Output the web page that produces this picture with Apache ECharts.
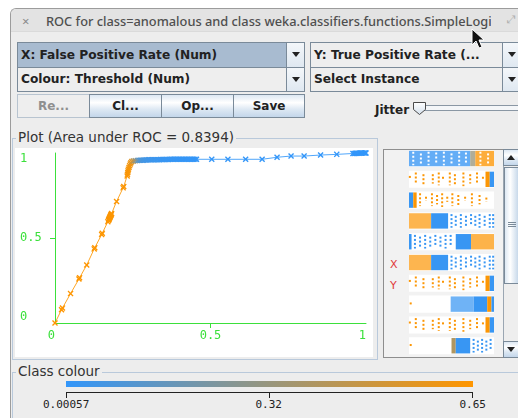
<!DOCTYPE html>
<html>
<head>
<meta charset="utf-8">
<script src="https://cdn.jsdelivr.net/npm/echarts@6/dist/echarts.min.js"></script>
<style>
html,body{margin:0;padding:0;width:518px;height:418px;overflow:hidden;background:#ffffff;font-family:"DejaVu Sans",sans-serif;}
.a{position:absolute;box-sizing:border-box;}
#win{left:10px;top:8px;width:520px;height:420px;background:#ededed;border-left:1px solid #9c9c9c;border-top:1px solid #9c9c9c;border-top-left-radius:6px;}
#titlebar{left:11px;top:9px;width:510px;height:23px;background:#e3e3e3;border-top-left-radius:5px;border-bottom:1px solid #dadada;}
#close{left:22px;top:12px;font:13px "Noto Sans",sans-serif;color:#8a8a8a;}
#title{left:46px;top:12px;width:445px;white-space:nowrap;overflow:hidden;font:500 12.8px "Noto Sans",sans-serif;color:#4f4f4f;}
#maxi{left:507px;top:13px;font:11px "DejaVu Sans",sans-serif;color:#b0b0b0;}
.combo{border:1px solid #7a8a99;background:#eeeeee;font:bold 12.2px "DejaVu Sans",sans-serif;color:#222;padding-left:3px;white-space:nowrap;overflow:hidden;}
.combo.sel{background:#a8bbd0;}
.arr{border:1px solid #7a8a99;background:linear-gradient(#f4f7fa,#dfe8f1);}
.arr::after{content:"";position:absolute;left:5px;top:9px;border-left:4px solid transparent;border-right:4px solid transparent;border-top:5px solid #222;}
.btn{border:1px solid #7a8a99;background:linear-gradient(#dde8f3 0%,#ffffff 35%,#dde8f3 65%,#c3d6ea 100%);font:bold 12px "DejaVu Sans",sans-serif;color:#222;text-align:center;}
.btn.dis{background:#eeeeee;color:#8f8f8f;border-color:#b8c4d0;}
.lbl{font:bold 12px "DejaVu Sans",sans-serif;color:#222;white-space:nowrap;}
.ptitle{font:13.5px "DejaVu Sans",sans-serif;color:#333;background:#ededed;padding:0 2px;white-space:nowrap;}
#chart{left:0;top:0;width:518px;height:418px;z-index:5;pointer-events:none;}
.mono{font:11px "DejaVu Sans Mono",monospace;color:#222;white-space:nowrap;}
</style>
</head>
<body>
<div class="a" id="win"></div>
<div class="a" id="titlebar"></div>
<div class="a" id="close">×</div>
<div class="a" id="title">ROC for class=anomalous and class weka.classifiers.functions.SimpleLogistic</div>
<div class="a" id="maxi">⤢</div>

<!-- selectors -->
<div class="a combo sel" style="left:17px;top:42px;width:270px;height:26px;line-height:24px;">X: False Positive Rate (Num)</div>
<div class="a arr" style="left:286px;top:42px;width:19px;height:26px;"></div>
<div class="a combo" style="left:310px;top:42px;width:193px;height:26px;line-height:24px;">Y: True Positive Rate (...</div>
<div class="a arr" style="left:502px;top:42px;width:19px;height:26px;"></div>
<div class="a combo" style="left:17px;top:67px;width:270px;height:25px;line-height:23px;">Colour: Threshold (Num)</div>
<div class="a arr" style="left:286px;top:67px;width:19px;height:25px;"></div>
<div class="a combo" style="left:310px;top:67px;width:193px;height:25px;line-height:23px;">Select Instance</div>
<div class="a arr" style="left:502px;top:67px;width:19px;height:25px;"></div>

<!-- buttons -->
<div class="a btn dis" style="left:17px;top:94px;width:73px;height:24px;line-height:22px;">Re...</div>
<div class="a btn" style="left:89px;top:94px;width:73px;height:24px;line-height:22px;">Cl...</div>
<div class="a btn" style="left:161px;top:94px;width:73px;height:24px;line-height:22px;">Op...</div>
<div class="a btn" style="left:233px;top:94px;width:72px;height:24px;line-height:22px;">Save</div>

<!-- jitter slider -->
<div class="a lbl" style="left:375px;top:103px;">Jitter</div>
<div class="a" style="left:417px;top:105px;width:110px;height:6px;border:1px solid #8a97a4;background:#f4f6f8;"></div>
<svg class="a" style="left:412px;top:101px;" width="16" height="16">
  <defs><linearGradient id="tg" x1="0" y1="0" x2="0" y2="1"><stop offset="0" stop-color="#ffffff"/><stop offset="1" stop-color="#d4e0ec"/></linearGradient></defs>
  <polygon points="1.5,1.5 13.5,1.5 13.5,8.5 7.5,13.5 1.5,8.5" fill="url(#tg)" stroke="#4a4a4a" stroke-width="1"/>
</svg>

<!-- plot panel -->
<div class="a" style="left:12px;top:138px;width:366px;height:222px;border:1px solid #b9c9db;"></div>
<div class="a" style="left:15px;top:148px;width:358px;height:209px;background:#ffffff;"></div>
<div class="a ptitle" style="left:16px;top:129px;">Plot (Area under ROC = 0.8394)</div>

<!-- attribute panel -->
<div class="a" style="left:383px;top:149px;width:121px;height:209px;border:1px solid #8e8e8e;background:#f2f2f2;"></div>
<div class="a" style="left:390px;top:258px;font:11px 'DejaVu Sans',sans-serif;color:#e03a3a;">X</div>
<div class="a" style="left:390px;top:279px;font:11px 'DejaVu Sans',sans-serif;color:#e03a3a;">Y</div>
<!-- scrollbar -->
<div class="a" style="left:503px;top:149px;width:16px;height:209px;background:#eeeeee;border-left:1px solid #9aa6b2;"></div>
<div class="a btn" style="left:503px;top:149px;width:16px;height:17px;"></div>
<div class="a" style="left:507px;top:155px;border-left:4px solid transparent;border-right:4px solid transparent;border-bottom:5px solid #222;"></div>
<div class="a" style="left:504px;top:167px;width:15px;height:117px;border:1px solid #7a8a99;background:linear-gradient(90deg,#dde8f3,#ffffff 40%,#c8d9ea);"></div>
<div class="a" style="left:508px;top:222px;width:8px;height:5px;border-top:1px solid #7a8a99;border-bottom:1px solid #7a8a99;"></div>
<div class="a" style="left:508px;top:224px;width:8px;height:1px;background:#7a8a99;"></div>
<div class="a btn" style="left:503px;top:341px;width:16px;height:17px;"></div>
<div class="a" style="left:507px;top:347px;border-left:4px solid transparent;border-right:4px solid transparent;border-top:5px solid #222;"></div>

<!-- class colour panel -->
<div class="a" style="left:12px;top:372px;width:520px;height:60px;border-left:1px solid #b9c9db;border-top:1px solid #b9c9db;"></div>
<div class="a ptitle" style="left:16px;top:363px;">Class colour</div>
<div class="a" id="cbar" style="left:66px;top:381px;width:407px;height:6px;"></div>
<div class="a" style="left:66px;top:392px;width:407px;height:6px;border-left:1px solid #222;border-right:1px solid #222;border-top:1px solid #222;"></div>
<div class="a" style="left:269px;top:392px;width:1px;height:6px;background:#222;"></div>
<div class="a mono" id="cl0" style="top:398px;"></div>
<div class="a mono" id="cl1" style="top:398px;"></div>
<div class="a mono" id="cl2" style="top:398px;"></div>

<div class="a" id="chart"></div>

<!-- pointer -->
<svg class="a" style="left:471px;top:28px;z-index:9;" width="16" height="22">
  <polygon points="1,1 1,17 5,13 8,20 11,19 8,12 13,12" fill="#111" stroke="#fff" stroke-width="1"/>
</svg>

<script>
// ROC curve points, in order of decreasing threshold
const fpr = [0.000,0.021,0.024,0.050,0.077,0.079,0.102,0.126,0.128,0.150,0.152,
  0.170,0.172,0.173,0.174,0.175,0.176,0.177,0.178,0.179,0.180,0.181,0.182,
  0.198,0.219,0.221,
  0.232,0.233,0.234,0.235,0.236,0.238,0.240,0.242,0.244,0.247,0.252,0.258,0.265,0.270,
  0.275,0.280,0.285,0.290,0.295,0.300,0.305,0.310,0.315,0.320,0.325,0.330,0.335,0.340,0.345,0.350,0.355,0.360,0.365,
  0.370,0.375,0.380,0.385,0.390,0.395,0.400,0.405,0.410,0.415,0.420,0.425,0.430,0.435,0.440,0.445,0.450,0.455,
  0.504,0.556,0.613,0.666,0.714,0.759,0.801,0.854,0.906,
  0.958,0.962,0.966,0.970,0.974,0.978,0.982,0.986,0.990,0.994,0.998,1.000];
const tpr = [0.000,0.078,0.088,0.173,0.259,0.266,0.341,0.436,0.443,0.520,0.528,
  0.596,0.604,0.608,0.612,0.616,0.620,0.624,0.628,0.632,0.636,0.640,0.644,
  0.715,0.795,0.803,
  0.865,0.875,0.885,0.895,0.905,0.915,0.925,0.935,0.943,0.950,0.953,0.955,0.956,0.957,
  0.957,0.958,0.958,0.959,0.959,0.960,0.960,0.960,0.960,0.961,0.961,0.961,0.961,0.962,0.962,0.962,0.962,0.962,0.962,
  0.963,0.963,0.963,0.963,0.963,0.963,0.963,0.963,0.963,0.963,0.963,0.963,0.963,0.963,0.963,0.963,0.963,0.963,
  0.963,0.963,0.963,0.963,0.975,0.982,0.982,0.988,0.992,
  0.997,0.997,0.998,0.998,0.999,0.999,1.000,1.000,1.000,1.000,1.000,1.000];
const threshold = [0.650,0.649,0.649,0.648,0.647,0.647,0.646,0.645,0.645,0.644,0.644,
  0.643,0.643,0.643,0.643,0.642,0.642,0.642,0.642,0.641,0.641,0.641,0.641,
  0.640,0.638,0.638,
  0.636,0.635,0.634,0.632,0.630,0.626,0.620,0.610,0.590,0.540,0.450,0.330,0.200,0.130,
  0.090,0.075,0.064,0.056,0.050,0.045,0.041,0.038,0.035,0.032,0.030,0.028,0.026,0.024,0.022,0.021,0.020,0.019,0.018,
  0.017,0.016,0.015,0.014,0.013,0.012,0.012,0.011,0.011,0.010,0.010,0.009,0.009,0.009,0.008,0.008,0.008,0.007,
  0.006,0.005,0.004,0.0035,0.003,0.0025,0.002,0.0018,0.0015,
  0.0012,0.0011,0.0010,0.0009,0.0009,0.0008,0.0008,0.0007,0.0007,0.0006,0.0006,0.00057];

// colour scale for the threshold
const thresholdMin = 0.00057, thresholdMax = 0.65;
const scaleLabels = ['0.00057', '0.32', '0.65'];

// attribute strips: solid runs [strip, from, to, threshold, opacity]
const stripRuns = [
  [0,0.00,0.72,0.02,0.78],[0,0.72,0.78,0.33,0.78],[0,0.78,1.00,0.64,0.78],
  [1,0.90,0.95,0.64,1],[1,0.95,1.00,0.02,1],
  [2,0.00,0.05,0.02,1],[2,0.05,0.09,0.64,1],
  [3,0.00,0.26,0.64,0.7],[3,0.26,0.46,0.02,1],
  [4,0.00,0.03,0.02,1],[4,0.55,0.73,0.02,1],[4,0.73,1.00,0.64,0.72],
  [5,0.00,0.26,0.64,0.7],[5,0.26,0.46,0.02,1],
  [6,0.90,0.95,0.64,1],[6,0.95,1.00,0.02,1],
  [7,0.49,0.76,0.02,0.72],[7,0.76,0.92,0.02,1],[7,0.92,0.97,0.64,1],[7,0.97,1.00,0.02,1],
  [8,0.90,0.95,0.64,1],[8,0.95,1.00,0.02,1],
  [9,0.50,0.55,0.40,1],[9,0.55,0.72,0.02,1]
];
// attribute strips: jittered dot columns [strip, x, top, bottom, threshold]
const stripDots = [
  [0,0.05,0.10,0.90,1.0],[0,0.14,0.20,0.80,1.0],[0,0.23,0.10,0.90,1.0],[0,0.32,0.15,0.85,1.0],
  [0,0.41,0.10,0.90,1.0],[0,0.50,0.20,0.80,1.0],[0,0.59,0.10,0.90,1.0],[0,0.67,0.15,0.85,1.0],
  [0,0.84,0.10,0.90,1.0],[0,0.93,0.20,0.80,1.0],
  [1,0.01,0.30,0.50,0.64],[1,0.08,0.10,0.75,0.64],[1,0.17,0.20,0.85,0.64],[1,0.28,0.20,0.75,0.64],
  [1,0.35,0.10,0.85,0.64],[1,0.40,0.35,0.50,0.64],[1,0.48,0.10,0.85,0.64],[1,0.54,0.20,0.85,0.64],
  [1,0.64,0.10,0.90,0.64],[1,0.72,0.20,0.75,0.64],[1,0.80,0.10,0.70,0.64],[1,0.87,0.35,0.55,0.64],
  [2,0.13,0.10,0.85,0.64],[2,0.20,0.30,0.55,0.64],[2,0.27,0.10,0.85,0.64],[2,0.33,0.20,0.75,0.64],
  [2,0.39,0.10,0.90,0.64],[2,0.45,0.30,0.60,0.64],[2,0.51,0.10,0.85,0.64],[2,0.58,0.20,0.80,0.64],
  [2,0.66,0.30,0.55,0.64],[2,0.74,0.10,0.85,0.64],[2,0.83,0.20,0.75,0.64],[2,0.91,0.35,0.60,0.64],
  [3,0.50,0.10,0.90,0.02],[3,0.55,0.20,0.80,0.02],[3,0.61,0.10,0.90,0.02],[3,0.67,0.20,0.90,0.02],
  [3,0.73,0.10,0.80,0.02],[3,0.78,0.20,0.90,0.02],[3,0.83,0.10,0.90,0.02],[3,0.89,0.20,0.80,0.02],
  [3,0.95,0.10,0.90,0.02],[3,0.99,0.10,0.90,0.02],
  [4,0.07,0.10,0.90,0.02],[4,0.13,0.20,0.80,0.02],[4,0.19,0.10,0.90,0.02],[4,0.25,0.20,0.90,0.02],
  [4,0.31,0.10,0.80,0.02],[4,0.37,0.20,0.90,0.02],[4,0.43,0.10,0.90,0.02],[4,0.49,0.10,0.80,0.02],
  [5,0.50,0.10,0.90,0.02],[5,0.55,0.20,0.80,0.02],[5,0.61,0.10,0.90,0.02],[5,0.67,0.20,0.90,0.02],
  [5,0.73,0.10,0.80,0.02],[5,0.78,0.20,0.90,0.02],[5,0.83,0.10,0.90,0.02],[5,0.89,0.20,0.80,0.02],
  [5,0.95,0.10,0.90,0.02],[5,0.99,0.10,0.90,0.02],
  [6,0.01,0.30,0.50,0.64],[6,0.08,0.10,0.75,0.64],[6,0.17,0.20,0.85,0.64],[6,0.28,0.20,0.75,0.64],
  [6,0.35,0.10,0.85,0.64],[6,0.40,0.35,0.50,0.64],[6,0.48,0.10,0.85,0.64],[6,0.54,0.20,0.85,0.64],
  [6,0.64,0.10,0.90,0.64],[6,0.72,0.20,0.75,0.64],[6,0.80,0.10,0.70,0.64],[6,0.87,0.35,0.55,0.64],
  [7,0.02,0.40,0.60,0.64],
  [8,0.01,0.30,0.50,0.64],[8,0.08,0.10,0.75,0.64],[8,0.17,0.20,0.85,0.64],[8,0.28,0.20,0.75,0.64],
  [8,0.35,0.10,0.85,0.64],[8,0.40,0.35,0.50,0.64],[8,0.48,0.10,0.85,0.64],[8,0.54,0.20,0.85,0.64],
  [8,0.64,0.10,0.90,0.64],[8,0.72,0.20,0.75,0.64],[8,0.80,0.10,0.70,0.64],[8,0.87,0.35,0.55,0.64],
  [9,0.02,0.40,0.60,0.64],[9,0.76,0.10,0.90,0.02],[9,0.81,0.20,0.80,0.02],[9,0.86,0.10,0.90,0.02],
  [9,0.91,0.20,0.90,0.02],[9,0.96,0.10,0.80,0.02]
];
const stripCount = 10;

const low = [50, 150, 250], high = [255, 150, 0];
// values above the scale maximum are drawn white (gaps between jittered dots)
function thresholdColour(t) {
  if (t > thresholdMax) return '#ffffff';
  const f = Math.max(0, Math.min(1, (t - thresholdMin) / (thresholdMax - thresholdMin)));
  const c = low.map((v, i) => Math.round(v + (high[i] - v) * f));
  return 'rgb(' + c.join(',') + ')';
}

// colour legend bar
document.getElementById('cbar').style.background =
  'linear-gradient(90deg,' + thresholdColour(thresholdMin) + ',' + thresholdColour((thresholdMin + thresholdMax) / 2) + ',' + thresholdColour(thresholdMax) + ')';
[[66, 'cl0'], [269, 'cl1'], [473, 'cl2']].forEach(([cx, id], i) => {
  const el = document.getElementById(id);
  el.textContent = scaleLabels[i];
  el.style.left = (cx - el.offsetWidth / 2) + 'px';
});

const green = '#3be03b';
const crossPath = 'path://M0,1.6L1.6,0L5,3.4L8.4,0L10,1.6L6.6,5L10,8.4L8.4,10L5,6.6L1.6,10L0,8.4L3.4,5Z';

const points = fpr.map((x, i) => [x, tpr[i], threshold[i]]);
const segments = fpr.slice(1).map((x, i) => [fpr[i], tpr[i], x, tpr[i + 1], threshold[i + 1]]);
const stripRows = Array.from({ length: stripCount }, (_, i) => [0, i]);
const stripHeight = 0.82;

const chart = echarts.init(document.getElementById('chart'), null, { renderer: 'canvas' });
chart.setOption({
  animation: false,
  grid: [
    { left: 55, top: 153, width: 311, height: 170 },
    { left: 409, top: 150, width: 85, height: 208 }
  ],
  xAxis: [
    {
      type: 'value', min: 0, max: 1, interval: 0.5, gridIndex: 0,
      axisLine: { lineStyle: { color: green, width: 1 } },
      axisTick: { show: true, customValues: [0.5], length: 5, lineStyle: { color: green } },
      splitLine: { show: false },
      axisLabel: {
        color: green, fontFamily: 'DejaVu Sans Mono', fontSize: 12, margin: 7,
        alignMinLabel: 'right', alignMaxLabel: 'right',
        formatter: v => String(v)
      }
    },
    { type: 'value', min: 0, max: 1, gridIndex: 1, show: false }
  ],
  yAxis: [
    {
      type: 'value', min: 0, max: 1, interval: 0.5, gridIndex: 0,
      axisLine: { show: true, lineStyle: { color: green, width: 1 } },
      axisTick: { show: true, customValues: [0.5], length: 5, lineStyle: { color: green } },
      splitLine: { show: false },
      axisLabel: {
        color: green, fontFamily: 'DejaVu Sans Mono', fontSize: 12, margin: 35, align: 'left',
        verticalAlignMinLabel: 'bottom', verticalAlignMaxLabel: 'top',
        formatter: v => String(v)
      }
    },
    { type: 'value', min: 0, max: stripCount, inverse: true, gridIndex: 1, show: false }
  ],
  series: [
    {
      type: 'custom', name: 'roc-line', xAxisIndex: 0, yAxisIndex: 0, z: 2,
      data: segments, encode: { x: [0, 2], y: [1, 3] },
      renderItem(params, api) {
        const p0 = api.coord([api.value(0), api.value(1)]);
        const p1 = api.coord([api.value(2), api.value(3)]);
        return { type: 'line', shape: { x1: p0[0], y1: p0[1], x2: p1[0], y2: p1[1] },
          style: { stroke: thresholdColour(api.value(4)), lineWidth: 1, opacity: 0.85 } };
      }
    },
    {
      type: 'scatter', name: 'roc-points', xAxisIndex: 0, yAxisIndex: 0, z: 3,
      data: points, symbol: crossPath, symbolSize: 6,
      itemStyle: { color: p => thresholdColour(p.value[2]), opacity: 1 }
    },
    {
      type: 'custom', name: 'strip-bg', xAxisIndex: 1, yAxisIndex: 1, z: 1,
      data: stripRows, encode: { x: 0, y: 1 },
      renderItem(params, api) {
        const a = api.coord([0, api.value(1)]);
        const b = api.coord([1, api.value(1) + stripHeight]);
        return { type: 'rect', shape: { x: a[0], y: a[1], width: b[0] - a[0], height: b[1] - a[1] }, style: { fill: '#ffffff' } };
      }
    },
    {
      type: 'custom', name: 'strip-runs', xAxisIndex: 1, yAxisIndex: 1, z: 2,
      data: stripRuns, encode: { x: [1, 2], y: 0 },
      renderItem(params, api) {
        const s = api.value(0);
        const a = api.coord([api.value(1), s + 0.04]);
        const b = api.coord([api.value(2), s + stripHeight - 0.04]);
        return { type: 'rect', shape: { x: a[0], y: a[1], width: b[0] - a[0], height: b[1] - a[1] },
          style: { fill: thresholdColour(api.value(3)), opacity: api.value(4) } };
      }
    },
    {
      type: 'custom', name: 'strip-dots', xAxisIndex: 1, yAxisIndex: 1, z: 3,
      data: stripDots, encode: { x: 1, y: 0 },
      renderItem(params, api) {
        const s = api.value(0);
        const a = api.coord([api.value(1), s + api.value(2) * stripHeight]);
        const b = api.coord([api.value(1), s + api.value(3) * stripHeight]);
        return { type: 'line', shape: { x1: a[0], y1: a[1], x2: b[0], y2: b[1] },
          style: { stroke: thresholdColour(api.value(4)), lineWidth: 2, lineDash: [2, 2] } };
      }
    }
  ]
});
</script>
</body>
</html>
